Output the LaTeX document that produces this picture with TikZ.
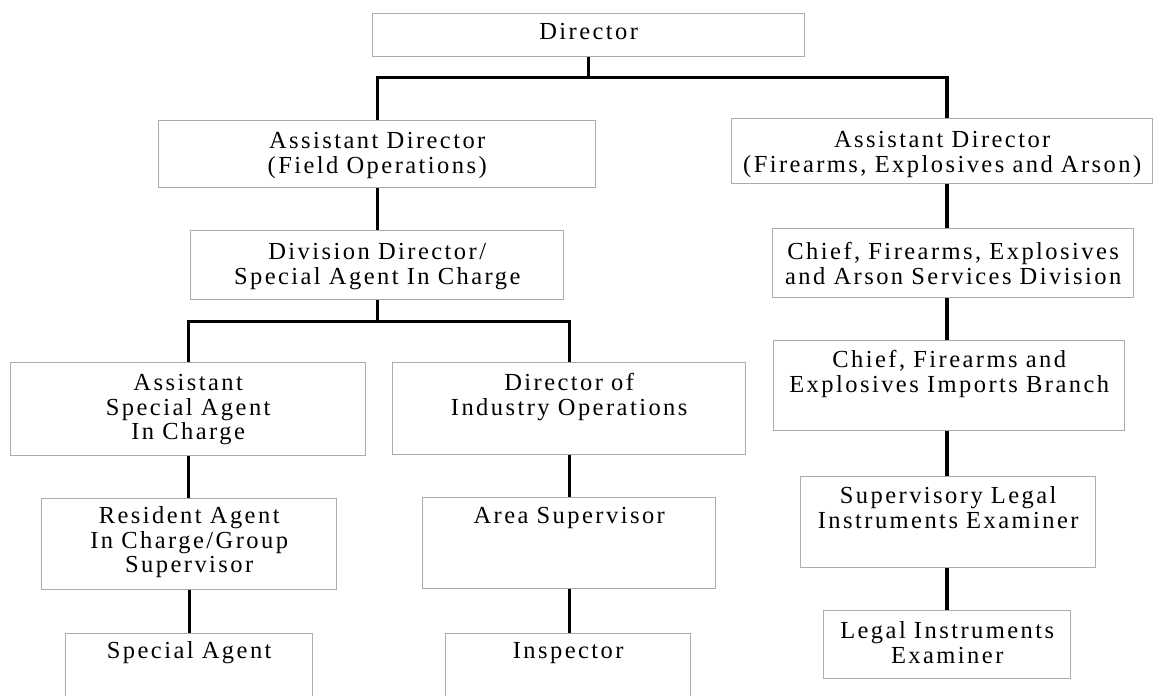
\documentclass[tikz,border=0pt]{standalone}
\usepackage{fontspec}
\setmainfont{Liberation Serif}[LetterSpace=10, WordSpace=1.1]
\begin{document}
\begin{tikzpicture}[x=1pt,y=-1pt,
  orgbox/.style={draw=gray!65, line width=1.4pt, inner sep=0pt, align=center,
    anchor=north west, font=\fontsize{24.5}{24.5}\selectfont},
  conn/.style={line width=3.2pt, draw=black, line join=miter}]
\useasboundingbox (0,0) rectangle (1154,696);
\clip (0,0) rectangle (1154,696);
% boxes
\node[orgbox, text width=432pt, text height=26pt, text depth=17pt] (dir) at (372,13) {Director};
\node[orgbox, text width=437pt, text height=28pt, text depth=39pt] (adfo) at (158,120) {Assistant Director\\(Field Operations)};
\node[orgbox, text width=421pt, text height=29pt, text depth=36pt] (adfea) at (731,118) {Assistant Director\\(Firearms, Explosives and Arson)};
\node[orgbox, text width=373pt, text height=29pt, text depth=40pt] (div) at (190,230) {Division Director/\\Special Agent In Charge};
\node[orgbox, text width=361pt, text height=31pt, text depth=38pt] (cfea) at (772,228) {Chief, Firearms, Explosives\\and Arson Services Division};
\node[orgbox, text width=355pt, text height=28pt, text depth=65pt] (asac) at (10,362) {Assistant\\Special Agent\\In Charge};
\node[orgbox, text width=353pt, text height=28pt, text depth=64pt] (dio) at (392,362) {Director of\\Industry Operations};
\node[orgbox, text width=351pt, text height=27pt, text depth=63pt] (cimp) at (773,340) {Chief, Firearms and\\Explosives Imports Branch};
\node[orgbox, text width=295pt, text height=25pt, text depth=66pt] (ra) at (41,498) {Resident Agent\\In Charge/Group\\Supervisor};
\node[orgbox, text width=293pt, text height=26pt, text depth=65pt] (as) at (422,497) {Area Supervisor};
\node[orgbox, text width=295pt, text height=27pt, text depth=64pt] (slie) at (800,476) {Supervisory Legal\\Instruments Examiner};
\node[orgbox, text width=247pt, text height=25pt, text depth=80pt] (sa) at (65,633) {Special Agent};
\node[orgbox, text width=245pt, text height=25pt, text depth=80pt] (insp) at (445,633) {Inspector};
\node[orgbox, text width=247pt, text height=28pt, text depth=40pt] (lie) at (823,610) {Legal Instruments\\Examiner};
% connectors
\coordinate (rc) at (947,0);
\coordinate (bus1) at (0,77.5);
\coordinate (bus2) at (0,321.5);
\draw[conn] (dir.south) -- (dir.south |- bus1);
\draw[conn] (adfo.north) |- (rc |- bus1) -- (rc |- adfea.north);
\draw[conn] (adfo.south) -- (adfo.south |- div.north);
\draw[conn] (div.south) -- (div.south |- bus2);
\draw[conn] (asac.north) |- (dio.north |- bus2) -- (dio.north);
\draw[conn] (asac.south) -- (asac.south |- ra.north);
\draw[conn] (ra.south) -- (ra.south |- sa.north);
\draw[conn] (dio.south) -- (dio.south |- as.north);
\draw[conn] (as.south) -- (as.south |- insp.north);
\draw[conn] (rc |- adfea.south) -- (rc |- cfea.north);
\draw[conn] (rc |- cfea.south) -- (rc |- cimp.north);
\draw[conn] (rc |- cimp.south) -- (rc |- slie.north);
\draw[conn] (rc |- slie.south) -- (rc |- lie.north);
\end{tikzpicture}
\end{document}
